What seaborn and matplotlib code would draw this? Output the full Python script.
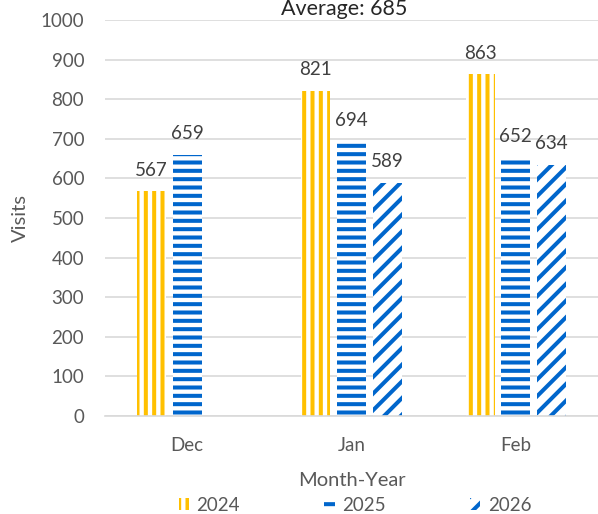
import matplotlib.pyplot as plt
import numpy as np
import pandas as pd
import seaborn as sns
from matplotlib.patches import Patch

# chart values
months = ['Dec', 'Jan', 'Feb']
years = ['2024', '2025', '2026']
visits_2024 = [567, 821, 863]
visits_2025 = [659, 694, 652]
visits_2026 = [np.nan, 589, 634]
average = 685

colors = {'2024': '#FFC000', '2025': '#0066CC', '2026': '#0066CC'}
hatches = {'2024': '||', '2025': '--', '2026': '//'}

sns.set_theme(style='white')
plt.rcParams['font.family'] = ['Lato', 'DejaVu Sans']
plt.rcParams['hatch.linewidth'] = 2.9

df = pd.DataFrame({
    'Month': months * 3,
    'Year': [y for y in years for _ in months],
    'Visits': visits_2024 + visits_2025 + visits_2026,
})

fig = plt.figure(figsize=(5.98, 5.14), dpi=100)
ax = fig.add_axes([105 / 598, 1 - 416 / 514, 493 / 598, 396 / 514])

sns.barplot(data=df.dropna(), x='Month', y='Visits', hue='Year', order=months,
            hue_order=years, palette=colors, width=0.652, errorbar=None,
            legend=False, ax=ax)

# patterned bars, no outline, a bit of gap between them
for year, cont in zip(years, ax.containers):
    for bar in cont:
        cx = bar.get_x() + bar.get_width() / 2
        bar.set_width(0.176)
        bar.set_x(cx - 0.088)
        bar.set_facecolor('white')
        bar.set_edgecolor(colors[year])
        bar.set_linewidth(0)
        bar.set_hatch(hatches[year])
        ax.annotate(f'{bar.get_height():.0f}', (cx, bar.get_height()),
                    xytext=(0, 11.2), textcoords='offset points',
                    ha='center', va='baseline', fontsize=13.5, color='#404040')

ax.set_ylim(0, 1000)
ax.set_xlim(-0.5, 2.5)
ax.set_yticks(range(0, 1001, 100))
ax.yaxis.grid(True, color='#D9D9D9', linewidth=1.2)
ax.set_axisbelow(True)
for s in ['left', 'top', 'right']:
    ax.spines[s].set_visible(False)
ax.spines['bottom'].set_color('#D9D9D9')
ax.spines['bottom'].set_linewidth(1.2)
ax.tick_params(axis='y', length=0, labelsize=13.5, labelcolor='#595959', pad=15)
ax.tick_params(axis='x', length=0, labelsize=13.5, labelcolor='#595959', pad=15)

ax.set_xlabel('Month-Year', fontsize=14.5, color='#595959', labelpad=13)
ax.set_ylabel('Visits', fontsize=14.5, color='#595959')
ax.yaxis.set_label_coords(-(105 - 29) / 493, 0.5)

fig.text(344 / 598, 1 - 15 / 514, f'Average: {average}', ha='center',
         va='baseline', fontsize=15.5, color='#262626')

handles = [Patch(facecolor='white', edgecolor=colors[y], hatch=hatches[y],
                 linewidth=0, label=y) for y in years]
fig.legend(handles=handles, loc='lower center', bbox_to_anchor=(355 / 598, -0.032),
           ncol=3, frameon=False, fontsize=13.5, labelcolor='#595959',
           handlelength=0.55, handleheight=0.55, handletextpad=0.4,
           columnspacing=4.5)

fig.savefig('out.png', dpi=100)
